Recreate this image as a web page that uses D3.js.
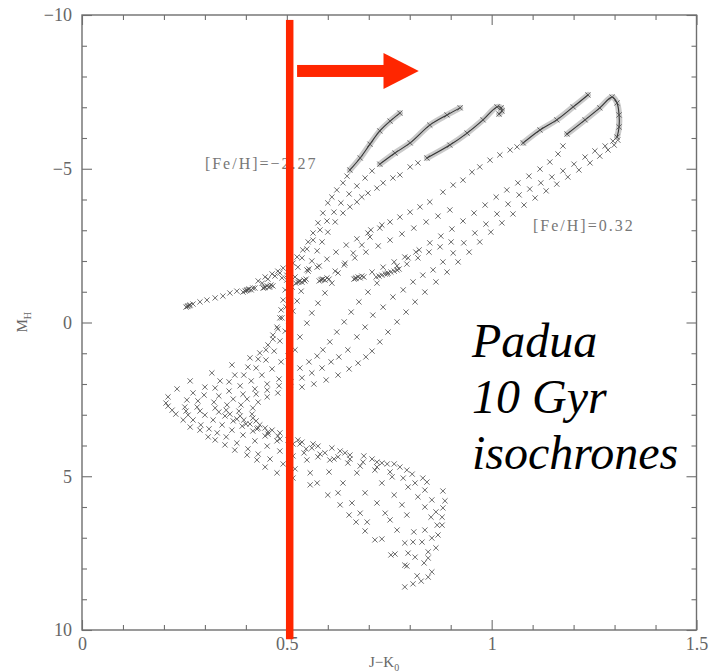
<!DOCTYPE html>
<html>
<head>
<meta charset="utf-8">
<script src="https://cdn.jsdelivr.net/npm/d3@7"></script>
<style>
  html, body { margin: 0; padding: 0; background: #fff; }
  svg { display: block; }
</style>
</head>
<body>
<svg id="chart" width="710" height="672"></svg>
<script>
// ---- axis ticks ----
const xMajor = [0, 0.5, 1, 1.5];
const xMinor = [0.1, 0.2, 0.3, 0.4, 0.6, 0.7, 0.8, 0.9, 1.1, 1.2, 1.3, 1.4];
const yMajor = [-10, -5, 0, 5, 10];
const yMinor = [-9, -8, -7, -6, -4, -3, -2, -1, 1, 2, 3, 4, 6, 7, 8, 9];

// ---- isochrone points [J-K_0, M_H], ordered from lower main sequence upward ----
const track0 = [
  [0.788,8.60],[0.788,7.89],[0.754,7.56],[0.715,7.07],[0.691,6.78],[0.669,6.49],[0.652,6.26],[0.630,5.93],[0.600,5.61],[0.557,5.28],[0.515,5.06],[0.476,4.89],[0.447,4.70],[0.427,4.47],[0.403,4.31],[0.373,4.15],[0.349,3.98],[0.325,3.82],[0.308,3.72],[0.288,3.50],[0.264,3.40],[0.247,3.17],[0.229,2.98],[0.220,2.85],[0.210,2.72],[0.205,2.62],
  [0.210,2.42],[0.232,2.16],[0.264,1.90],[0.317,1.64],[0.366,1.38],[0.410,1.15],[0.434,0.99],[0.454,0.73],[0.466,0.41],[0.476,0.15],
  [0.483,-0.15],[0.486,-0.41],[0.491,-0.73],[0.496,-1.06],[0.500,-1.38],[0.508,-1.67],[0.515,-1.93],[0.525,-2.13],[0.539,-2.36],[0.552,-2.62],[0.564,-2.91],[0.576,-3.24],[0.588,-3.56],[0.600,-3.89],[0.610,-4.08],[0.622,-4.31],[0.637,-4.54],[0.647,-4.76]
];
const tip0 = [[0.654,-4.96],[0.679,-5.35],[0.703,-5.80],[0.727,-6.23],[0.752,-6.55],[0.776,-6.81]];
const hb0 = [[0.254,-0.50],[0.257,-0.52],[0.259,-0.54],[0.262,-0.55],[0.264,-0.57],[0.271,-0.60],[0.288,-0.67],[0.305,-0.73],[0.325,-0.80],[0.344,-0.86],[0.361,-0.96],[0.378,-1.02],[0.430,-1.35],[0.447,-1.48],[0.464,-1.58],[0.478,-1.67],[0.491,-1.77]];

const track1 = [
  [0.808,8.50],[0.793,7.92],[0.764,7.53],[0.732,7.04],[0.696,6.49],[0.679,6.20],[0.659,5.87],[0.625,5.54],[0.574,5.22],[0.557,4.89],[0.520,4.76],[0.491,4.60],[0.459,4.44],[0.430,4.28],[0.405,4.11],[0.378,3.92],[0.352,3.72],[0.330,3.59],[0.310,3.46],[0.290,3.33],[0.271,3.17],[0.259,3.01],[0.254,2.88],[0.251,2.75],
  [0.256,2.52],[0.271,2.29],[0.300,2.10],[0.337,1.90],[0.373,1.71],[0.405,1.45],[0.430,1.19],[0.449,0.89],[0.466,0.54],[0.478,0.21],[0.488,-0.15],[0.498,-0.50],[0.505,-0.83],[0.513,-1.15],[0.520,-1.48],[0.527,-1.80],[0.537,-2.10],[0.549,-2.39],[0.564,-2.68],[0.581,-3.01],[0.598,-3.30],[0.615,-3.59],[0.632,-3.89],[0.652,-4.18],[0.671,-4.44],[0.691,-4.70],[0.708,-4.93]
];
const tip1 = [[0.727,-5.15],[0.764,-5.51],[0.801,-5.84],[0.849,-6.42],[0.891,-6.75],[0.923,-6.98]];
const hb1 = [[0.393,-0.99],[0.398,-1.02],[0.401,-1.04],[0.403,-1.06],[0.406,-1.07],[0.408,-1.09],[0.413,-1.06],[0.417,-1.12],[0.422,-1.12],[0.440,-1.28],[0.454,-1.41],[0.471,-1.51],[0.483,-1.61]];

const track2 = [
  [0.818,8.24],[0.796,7.50],[0.788,7.17],[0.769,6.75],[0.752,6.42],[0.740,6.20],[0.720,5.87],[0.691,5.54],[0.637,5.22],[0.603,4.86],[0.549,4.47],[0.515,4.34],[0.483,4.18],[0.452,4.02],[0.422,3.85],[0.393,3.66],[0.366,3.50],[0.342,3.33],[0.320,3.17],[0.300,3.01],[0.288,2.88],[0.281,2.75],
  [0.283,2.55],[0.298,2.36],[0.325,2.13],[0.359,1.93],[0.395,1.71],[0.425,1.48],[0.449,1.22],[0.469,0.93],[0.483,0.60],[0.496,0.28],[0.505,-0.05],[0.515,-0.37],[0.525,-0.70],[0.535,-1.02],[0.544,-1.35],[0.552,-1.67],[0.561,-2.00],[0.574,-2.33],[0.586,-2.62],[0.600,-2.94],[0.618,-3.27],[0.637,-3.56],[0.654,-3.76],[0.671,-3.92],[0.683,-4.08],[0.698,-4.21],[0.720,-4.37],[0.735,-4.54],[0.759,-4.70],[0.776,-4.80],[0.801,-5.06],[0.820,-5.19]
];
const tip2 = [[0.842,-5.35],[0.898,-5.77],[0.940,-6.16],[0.979,-6.59],[1.013,-7.01],[1.023,-6.98],[1.025,-6.88],[1.018,-6.78]];
const hb2 = [[0.442,-1.12],[0.445,-1.13],[0.447,-1.15],[0.452,-1.19],[0.456,-1.15],[0.459,-1.17],[0.461,-1.22],[0.466,-1.19],[0.488,-1.45],[0.500,-1.54]];

const track3 = [
  [0.828,8.41],[0.813,7.63],[0.808,7.14],[0.810,6.81],[0.793,6.26],[0.781,5.93],[0.762,5.61],[0.732,5.22],[0.671,4.89],[0.605,4.47],[0.576,4.37],[0.542,4.24],[0.508,4.05],[0.476,3.85],[0.447,3.69],[0.417,3.53],[0.391,3.37],[0.369,3.20],[0.349,3.04],[0.334,2.91],[0.325,2.78],
  [0.322,2.59],[0.334,2.39],[0.359,2.23],[0.386,2.06],[0.413,1.90],[0.439,1.71],[0.464,1.51],[0.486,1.28],[0.503,1.09],[0.520,0.89],[0.532,0.47],[0.549,0.02],[0.561,-0.31],[0.576,-0.63],[0.593,-0.96],[0.610,-1.28],[0.625,-1.61],[0.642,-1.93],[0.662,-2.26],[0.683,-2.52],[0.703,-2.78],[0.727,-3.07],[0.752,-3.27],[0.776,-3.43],[0.801,-3.59],[0.825,-3.76],[0.849,-3.92],[0.881,-4.24],[0.906,-4.47],[0.930,-4.63],[0.952,-4.89],[0.971,-5.06],[0.996,-5.28],[1.020,-5.45],[1.045,-5.61],[1.062,-5.71]
];
const tip3 = [[1.077,-5.84],[1.118,-6.26],[1.159,-6.59],[1.199,-7.01],[1.235,-7.40]];
const hb3 = [[0.522,-1.28],[0.527,-1.31],[0.530,-1.33],[0.532,-1.35],[0.537,-1.31],[0.542,-1.38],[0.547,-1.41],[0.549,-1.71],[0.554,-1.74],[0.574,-1.80],[0.579,-1.84],[0.598,-2.06],[0.620,-2.29],[0.645,-2.52],[0.671,-2.72],[0.698,-2.91],[0.705,-3.01],[0.732,-3.17]];

const track4 = [
  [0.835,7.82],[0.830,7.14],[0.837,6.75],[0.852,6.33],[0.837,6.00],[0.820,5.67],[0.796,5.35],[0.757,5.02],[0.715,4.80],[0.679,4.67],[0.649,4.57],[0.615,4.44],[0.581,4.28],[0.547,4.11],[0.515,3.95],[0.483,3.79],[0.454,3.63],[0.427,3.46],[0.400,3.30],[0.378,3.14],[0.361,2.98],[0.352,2.85],
  [0.354,2.68],[0.369,2.49],[0.393,2.33],[0.422,2.16],[0.452,2.00],[0.481,1.84],[0.508,1.67],[0.532,1.48],[0.554,1.28],[0.574,1.09],[0.588,0.89],[0.605,0.63],[0.622,0.31],[0.640,-0.02],[0.657,-0.34],[0.676,-0.67],[0.698,-0.99],[0.720,-1.28],[0.745,-1.58],[0.769,-1.84],[0.796,-2.10],[0.823,-2.36],[0.849,-2.59],[0.876,-2.81],[0.903,-3.04],[0.930,-3.30],[0.957,-3.56],[0.984,-3.82],[1.011,-4.08],[1.037,-4.31],[1.064,-4.54],[1.091,-4.76],[1.118,-4.99],[1.142,-5.22],[1.162,-5.48],[1.174,-5.74]
];
const tip4 = [[1.184,-6.13],[1.228,-6.59],[1.264,-6.98],[1.294,-7.33],[1.306,-7.14],[1.311,-6.75],[1.311,-6.36],[1.306,-6.03]];
const hb4 = [[0.579,-1.35],[0.583,-1.38],[0.586,-1.40],[0.588,-1.41],[0.593,-1.38],[0.598,-1.45],[0.603,-1.41],[0.618,-1.67],[0.640,-1.87],[0.666,-2.10],[0.693,-2.29],[0.723,-2.49],[0.752,-2.68],[0.781,-2.88],[0.810,-3.07],[0.840,-3.27],[0.869,-3.46],[0.898,-3.66]];

const track5 = [
  [0.854,8.11],[0.845,7.46],[0.854,7.01],[0.867,6.59],[0.864,6.16],[0.854,5.77],[0.837,5.45],[0.813,5.22],[0.784,5.06],[0.752,4.86],[0.720,4.70],[0.686,4.54],[0.654,4.44],[0.625,4.37],[0.593,4.24],[0.561,4.08],[0.532,3.95],[0.503,3.82],[0.478,3.69],[0.454,3.56],[0.430,3.43],[0.410,3.30],[0.395,3.17],[0.386,3.04],[0.383,2.88],
  [0.388,2.68],[0.403,2.49],[0.425,2.33],[0.452,2.20],[0.481,2.06],[0.510,1.93],[0.537,1.80],[0.561,1.64],[0.586,1.48],[0.608,1.28],[0.627,1.12],
  [0.649,0.89],[0.671,0.47],[0.691,0.15],[0.710,-0.24],[0.735,-0.50],[0.759,-0.83],[0.784,-1.06],[0.808,-1.32],[0.832,-1.54],[0.857,-1.71],[0.881,-1.97],[0.906,-2.26],[0.932,-2.59],[0.959,-2.91],[0.986,-3.20],[1.013,-3.53],[1.040,-3.85],[1.067,-4.15],[1.093,-4.34],[1.120,-4.54],[1.147,-4.73],[1.174,-4.93],[1.201,-5.15],[1.228,-5.38],[1.252,-5.58],[1.277,-5.74],[1.296,-5.90]
];
const hb5 = [[0.664,-1.41],[0.667,-1.43],[0.669,-1.45],[0.674,-1.48],[0.679,-1.45],[0.683,-1.51],[0.688,-1.48],[0.708,-1.64],[0.735,-1.80],[0.762,-1.97],[0.788,-2.13],[0.815,-2.29]];

const track6 = [
  [0.845,8.28],[0.845,7.66],[0.864,7.33],[0.869,6.91],[0.879,6.59],[0.879,6.33],[0.881,6.03],[0.886,5.80],[0.881,5.48],[0.842,5.19],[0.832,5.06],[0.806,4.93],[0.793,4.80],[0.776,4.70],[0.762,4.60],[0.745,4.60],[0.732,4.57],[0.720,4.54],[0.708,4.44],[0.688,4.34],[0.654,4.31],[0.642,4.24],[0.630,4.18],[0.610,4.08],[0.576,4.02],[0.564,3.95],[0.537,3.89],[0.527,3.82],[0.508,3.72],[0.483,3.59],[0.464,3.50],[0.447,3.43],[0.434,3.33],[0.425,3.20],[0.417,3.11],[0.415,2.98],
  [0.417,2.78],[0.430,2.59],[0.452,2.42],[0.478,2.29],[0.508,2.20],[0.537,2.10],[0.566,2.00],[0.596,1.87],[0.625,1.71],[0.652,1.51],[0.674,1.32],[0.693,1.12],[0.708,0.93],[0.727,0.63],[0.747,0.31],[0.769,-0.02],[0.791,-0.34],[0.813,-0.67],[0.837,-0.99],[0.864,-1.32],[0.891,-1.64],[0.918,-1.97],[0.945,-2.29],[0.971,-2.62],[0.998,-2.94],[1.025,-3.24],[1.052,-3.53],[1.079,-3.82],[1.106,-4.05],[1.133,-4.28],[1.159,-4.50],[1.186,-4.73],[1.213,-4.96],[1.240,-5.19],[1.264,-5.41],[1.284,-5.61],[1.299,-5.77],[1.308,-5.93]
];
const hb6 = [[0.718,-1.48],[0.725,-1.51],[0.732,-1.54],[0.740,-1.58],[0.747,-1.61],[0.754,-1.64],[0.762,-1.67],[0.769,-1.71],[0.774,-1.74],[0.793,-1.90],[0.820,-2.10],[0.847,-2.29],[0.874,-2.46],[0.901,-2.62]];

// ---- text ----
const metalLabels = [
  { text: "[Fe/H]=\u22122.27", jk: 0.300, mh: -4.99 },
  { text: "[Fe/H]=0.32", jk: 1.101, mh: -2.98 }
];
const titleLines = ["Padua", "10 Gyr", "isochrones"];
const titleRows = [1.12, 2.94, 4.76];   // baselines in M_H units
const titleJK = 0.952;

// colour cut and the arrow pointing to the red side
const cutJK = 0.507;
const arrow = { from: 0.525, headBase: 0.736, tip: 0.822, level: -8.18 };

// ---- scales ----
const svg = d3.select("#chart");
const x = d3.scaleLinear().domain([0, 1.5]).range([82, 696.5]);
const y = d3.scaleLinear().domain([-10, 10]).range([15, 630]);

const serif = "'Liberation Serif', 'Times New Roman', serif";
const axisGrey = "#6f6f6f";
const fmt = d => d < 0 ? "\u2212" + Math.abs(d) : String(d);

// ---- frame and ticks (drawn inward on all four sides) ----
function tidy(g, labelled) {
  g.select(".domain").remove();
  g.selectAll(".tick line").attr("stroke", axisGrey).attr("stroke-width", 1.1);
  if (labelled) {
    g.selectAll(".tick text")
      .attr("fill", "#666").attr("font-family", serif).attr("font-size", 18);
  }
}
const gAx = svg.append("g");
gAx.append("g").attr("transform", `translate(0,${y(10)})`)
  .call(d3.axisBottom(x).tickValues(xMajor).tickSize(-10).tickPadding(7).tickFormat(fmt))
  .call(g => tidy(g, true));
gAx.append("g").attr("transform", `translate(0,${y(10)})`)
  .call(d3.axisBottom(x).tickValues(xMinor).tickSize(-5).tickFormat(""))
  .call(g => tidy(g, false));
gAx.append("g").attr("transform", `translate(0,${y(-10)})`)
  .call(d3.axisTop(x).tickValues(xMajor).tickSize(-10).tickFormat(""))
  .call(g => tidy(g, false));
gAx.append("g").attr("transform", `translate(0,${y(-10)})`)
  .call(d3.axisTop(x).tickValues(xMinor).tickSize(-5).tickFormat(""))
  .call(g => tidy(g, false));
gAx.append("g").attr("transform", `translate(${x(0)},0)`)
  .call(d3.axisLeft(y).tickValues(yMajor).tickSize(-10).tickPadding(10).tickFormat(fmt))
  .call(g => tidy(g, true));
gAx.append("g").attr("transform", `translate(${x(0)},0)`)
  .call(d3.axisLeft(y).tickValues(yMinor).tickSize(-5).tickFormat(""))
  .call(g => tidy(g, false));
gAx.append("g").attr("transform", `translate(${x(1.5)},0)`)
  .call(d3.axisRight(y).tickValues(yMajor).tickSize(-10).tickFormat(""))
  .call(g => tidy(g, false));
gAx.append("g").attr("transform", `translate(${x(1.5)},0)`)
  .call(d3.axisRight(y).tickValues(yMinor).tickSize(-5).tickFormat(""))
  .call(g => tidy(g, false));

svg.append("rect")
  .attr("x", x(0)).attr("y", y(-10))
  .attr("width", x(1.5) - x(0)).attr("height", y(10) - y(-10))
  .attr("fill", "none").attr("stroke", axisGrey).attr("stroke-width", 1.4);

// axis titles
const yTitle = svg.append("text")
  .attr("transform", `translate(27,${y(0) + 10}) rotate(-90)`)
  .attr("font-family", serif).attr("font-size", 15).attr("fill", "#666");
yTitle.append("tspan").text("M");
yTitle.append("tspan").attr("font-size", 10).attr("dy", 4).text("H");

const xTitle = svg.append("text")
  .attr("x", 369).attr("y", 667)
  .attr("font-family", serif).attr("font-size", 15).attr("fill", "#666");
xTitle.append("tspan").text("J\u2212K");
xTitle.append("tspan").attr("font-size", 10).attr("dy", 4).text("0");

// ---- isochrone markers ----
const plot = svg.append("g");
const R = 2.6;
function crosses(pts) {
  plot.append("path")
    .attr("d", pts.map(([a, b]) => {
      const px = x(a), py = y(b);
      return `M${px - R},${py - R}L${px + R},${py + R}M${px - R},${py + R}L${px + R},${py - R}`;
    }).join(""))
    .attr("fill", "none")
    .attr("stroke", "#4a4a4a")
    .attr("stroke-opacity", 0.8)
    .attr("stroke-width", 1);
}
const line = d3.line().x(d => x(d[0])).y(d => y(d[1])).curve(d3.curveCatmullRom);
function denseTrack(pts) {
  plot.append("path").attr("d", line(pts))
    .attr("fill", "none").attr("stroke", "#b4b4b4").attr("stroke-opacity", 0.7)
    .attr("stroke-width", 6).attr("stroke-linecap", "round");
  plot.append("path").attr("d", line(pts))
    .attr("fill", "none").attr("stroke", "#333")
    .attr("stroke-width", 1.1).attr("stroke-linecap", "round");
  crosses(pts);
}

[track0, track1, track2, track3, track4, track5, track6].forEach(crosses);
[hb0, hb1, hb2, hb3, hb4, hb5, hb6].forEach(crosses);
[tip0, tip1, tip2, tip3, tip4].forEach(denseTrack);

// metallicity labels
svg.selectAll("text.fe").data(metalLabels).join("text")
  .attr("class", "fe")
  .attr("x", d => x(d.jk)).attr("y", d => y(d.mh))
  .attr("font-family", serif).attr("font-size", 16)
  .attr("letter-spacing", 2).attr("fill", "#777")
  .text(d => d.text);

// ---- red cut line and arrow ----
const red = "#ff2600";
svg.append("rect")
  .attr("x", x(cutJK) - 3.75).attr("y", y(-9.84))
  .attr("width", 7.5).attr("height", y(10.3) - y(-9.84))
  .attr("fill", red);
svg.append("rect")
  .attr("x", x(arrow.from)).attr("y", y(arrow.level) - 6)
  .attr("width", x(arrow.headBase) - x(arrow.from) + 1).attr("height", 12)
  .attr("fill", red);
svg.append("path")
  .attr("d", `M${x(arrow.headBase)},${y(arrow.level) - 18}L${x(arrow.tip)},${y(arrow.level)}L${x(arrow.headBase)},${y(arrow.level) + 18}Z`)
  .attr("fill", red);

// ---- title block ----
svg.selectAll("text.title").data(titleLines).join("text")
  .attr("class", "title")
  .attr("x", x(titleJK))
  .attr("y", (d, i) => y(titleRows[i]))
  .attr("font-family", serif).attr("font-style", "italic")
  .attr("font-size", 48).attr("fill", "#000")
  .text(d => d);
</script>
</body>
</html>
